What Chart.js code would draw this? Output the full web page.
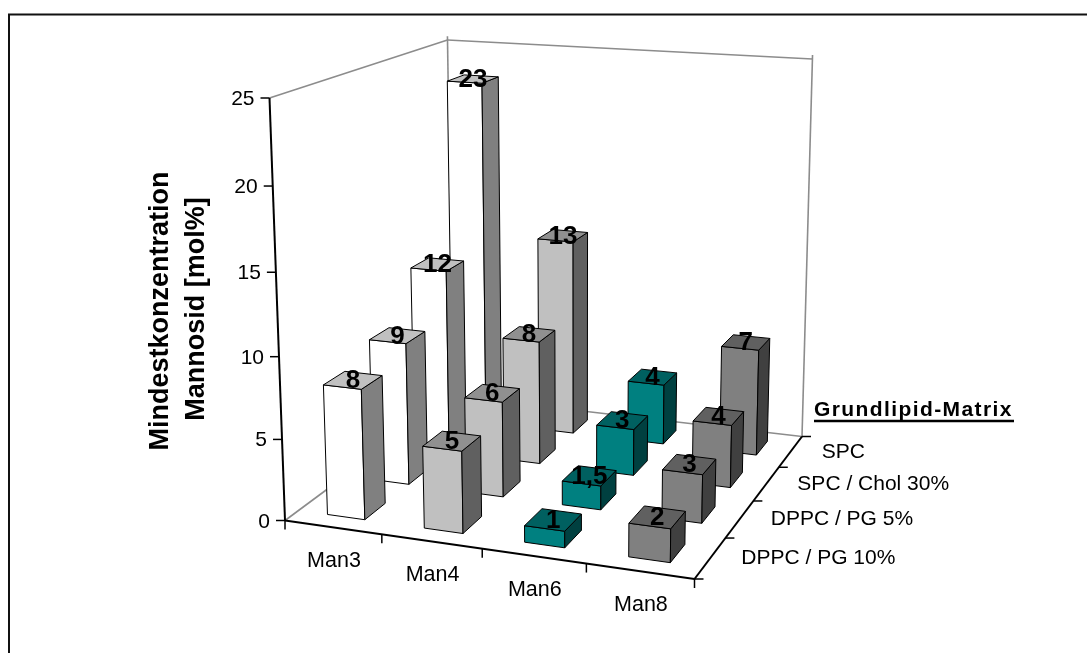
<!DOCTYPE html>
<html>
<head>
<meta charset="utf-8">
<style>
  html, body { margin: 0; padding: 0; background: #fff; }
  canvas { display: block; }
</style>
<script src="https://cdn.jsdelivr.net/npm/chart.js@4/dist/chart.umd.min.js"></script>
</head>
<body>
<canvas id="chart" width="1087" height="653"></canvas>
<script>
const categories = ['Man3', 'Man4', 'Man6', 'Man8'];
const valueTicks = [0, 5, 10, 15, 20, 25];

// rows from the back of the floor to the front
const rowLabels = ['SPC', 'SPC / Chol 30%', 'DPPC / PG 5%', 'DPPC / PG 10%'];
const spc = [23, 13, 4, 7];
const spcChol = [12, 8, 3, 4];
const dppcPg5 = [9, 6, 1.5, 3];
const dppcPg10 = [8, 5, 1, 2];

// front, side, top colour per category
const faceColors = [
    ['#ffffff', '#808080', '#c0c0c0'],
    ['#c0c0c0', '#606060', '#909090'],
    ['#008080', '#004040', '#006060'],
    ['#808080', '#404040', '#606060']
];

const FONT = "'Liberation Sans', Arial, sans-serif";
const BAR_U = 0.39;  // bar width as share of a category
const BAR_V = 0.45;  // bar depth as share of a row

// Corners of the 3D box on the page
const box = {
    front0: [285, 520.5], front1: [694.5, 579],
    back1: [802, 436.5], back0: [453, 396],
    frontTop0: [269.5, 98], backTop0: [447.5, 38.5]
};

function buildProjection(b) {
    const [x0, y0] = b.front0, [x1, y1] = b.front1, [x2, y2] = b.back1, [x3, y3] = b.back0;
    const dx1 = x1 - x2, dx2 = x3 - x2, sx = x0 - x1 + x2 - x3;
    const dy1 = y1 - y2, dy2 = y3 - y2, sy = y0 - y1 + y2 - y3;
    const det = dx1 * dy2 - dx2 * dy1;
    const g = (sx * dy2 - dx2 * sy) / det;
    const h = (dx1 * sy - sx * dy1) / det;
    const a = x1 - x0 + g * x1, bb = x3 - x0 + h * x3;
    const d = y1 - y0 + g * y1, e = y3 - y0 + h * y3;

    // vertical direction, from the two known top corners
    const [tx, ty] = b.frontTop0, [bx] = b.backTop0;
    const W3 = h + 1;
    const r = (bb + x0 + tx - x0 - bx * W3) / (bx - tx);
    const p = tx * (1 + r) - x0;
    const q = ty * (1 + r) - y0;

    return (u, v, z) => {
        const W = g * u + h * v + 1 + r * z;
        return [(a * u + bb * v + x0 + p * z) / W, (d * u + e * v + y0 + q * z) / W];
    };
}

const project = buildProjection(box);

function line(ctx, from, to, color, width) {
    ctx.beginPath();
    ctx.moveTo(from[0], from[1]);
    ctx.lineTo(to[0], to[1]);
    ctx.strokeStyle = color;
    ctx.lineWidth = width;
    ctx.stroke();
}

function face(ctx, pts, color) {
    ctx.beginPath();
    pts.forEach((pt, i) => i ? ctx.lineTo(pt[0], pt[1]) : ctx.moveTo(pt[0], pt[1]));
    ctx.closePath();
    ctx.fillStyle = color;
    ctx.fill();
    ctx.strokeStyle = '#000';
    ctx.lineWidth = 1;
    ctx.lineJoin = 'round';
    ctx.stroke();
}

function text(ctx, str, x, y, font, align) {
    ctx.font = font;
    ctx.textAlign = align || 'left';
    ctx.textBaseline = 'alphabetic';
    ctx.fillStyle = '#000';
    ctx.fillText(str, x, y);
}

const box3d = {
    id: 'box3d',
    afterDatasetsDraw(chart) {
        const ctx = chart.ctx;
        const xs = chart.scales.x, ys = chart.scales.y;
        const zOf = v => (ys.bottom - ys.getPixelForValue(v)) / ys.height;
        const uOf = i => (xs.getPixelForValue(i) - xs.left) / xs.width;
        const rows = chart.data.datasets.length;
        const vOf = j => (rows - 1 - j + 0.5) / rows;
        const halfU = BAR_U / categories.length / 2;
        const halfV = BAR_V / rows / 2;

        ctx.save();

        // frame, open to the right and at the bottom
        ctx.beginPath();
        ctx.moveTo(9, 653);
        ctx.lineTo(9, 14.5);
        ctx.lineTo(1087, 14.5);
        ctx.strokeStyle = '#111';
        ctx.lineWidth = 2;
        ctx.stroke();

        // walls
        const wall = '#8c8c8c';
        line(ctx, project(0, 0, 0), project(0, 1, 0), wall, 1.6);
        line(ctx, project(0, 1, 0), project(1, 1, 0), wall, 1.6);
        line(ctx, project(0, 1, 0), project(0, 1, 1.01), wall, 1.6);
        line(ctx, project(1, 1, 0), project(1, 1, 1.01), wall, 1.6);
        line(ctx, project(0, 0, 1), project(0, 1, 1), wall, 1.6);
        line(ctx, project(0, 1, 1), project(1, 1, 1), wall, 1.6);

        // bars, back row first
        chart.data.datasets.forEach((ds, j) => {
            const v = vOf(j);
            ds.data.forEach((value, i) => {
                const u = uOf(i), z = zOf(value);
                const [front, side, top] = faceColors[i];
                const u0 = u - halfU, u1 = u + halfU, v0 = v - halfV, v1 = v + halfV;
                face(ctx, [project(u0, v0, 0), project(u1, v0, 0), project(u1, v0, z), project(u0, v0, z)], front);
                face(ctx, [project(u1, v0, 0), project(u1, v1, 0), project(u1, v1, z), project(u1, v0, z)], side);
                face(ctx, [project(u0, v0, z), project(u1, v0, z), project(u1, v1, z), project(u0, v1, z)], top);
            });
        });

        // value labels on top of the bars
        chart.data.datasets.forEach((ds, j) => {
            ds.data.forEach((value, i) => {
                const c = project(uOf(i), vOf(j), zOf(value));
                text(ctx, String(value).replace('.', ','), c[0], c[1] + 8, 'bold 26px ' + FONT, 'center');
            });
        });

        // value axis
        line(ctx, project(0, 0, 0), project(0, 0, 1), '#000', 2);
        ys.ticks.forEach(t => {
            const pt = project(0, 0, zOf(t.value));
            line(ctx, pt, [pt[0] - 9, pt[1]], '#000', 1.5);
            text(ctx, t.label, pt[0] - 15, pt[1] + 7, '21px ' + FONT, 'right');
        });

        // category axis
        line(ctx, project(0, 0, 0), project(1, 0, 0), '#000', 2);
        for (let i = 0; i <= categories.length; i++) {
            const pt = project(i / categories.length, 0, 0);
            line(ctx, pt, [pt[0], pt[1] + 9], '#000', 1.5);
        }
        categories.forEach((name, i) => {
            const pt = project(uOf(i), 0, 0);
            text(ctx, name, pt[0] + 1, pt[1] + 40, '21.5px ' + FONT, 'center');
        });

        // depth axis
        line(ctx, project(1, 0, 0), project(1, 1, 0), '#000', 2);
        for (let j = 0; j <= rows; j++) {
            const pt = project(1, j / rows, 0);
            line(ctx, pt, [pt[0] + 9, pt[1]], '#000', 1.5);
        }
        rowLabels.forEach((name, j) => {
            const pt = project(1, vOf(j), 0);
            text(ctx, name, pt[0] + 31, pt[1] + 6, '21px ' + FONT);
        });

        // axis title, two rotated lines
        ctx.save();
        ctx.translate(168, 311);
        ctx.rotate(-Math.PI / 2);
        text(ctx, 'Mindestkonzentration', 0, 0, 'bold 27px ' + FONT, 'center');
        ctx.restore();
        ctx.save();
        ctx.translate(204, 309);
        ctx.rotate(-Math.PI / 2);
        text(ctx, 'Mannosid [mol%]', 0, 0, 'bold 27px ' + FONT, 'center');
        ctx.restore();

        // depth axis title
        ctx.letterSpacing = '1.4px';
        text(ctx, 'Grundlipid-Matrix', 814, 416, 'bold 21px ' + FONT);
        ctx.letterSpacing = '0px';
        line(ctx, [814, 421], [1014, 421], '#000', 2.5);

        ctx.restore();
    }
};

new Chart(document.getElementById('chart'), {
    type: 'bar',
    data: {
        labels: categories,
        datasets: [spc, spcChol, dppcPg5, dppcPg10].map((values, j) => ({
            label: rowLabels[j],
            data: values,
            backgroundColor: 'transparent',
            borderWidth: 0
        }))
    },
    options: {
        responsive: false,
        animation: false,
        layout: { padding: 0 },
        plugins: { legend: { display: false }, tooltip: { enabled: false } },
        scales: {
            x: { display: false },
            y: {
                display: false,
                min: valueTicks[0],
                max: valueTicks[valueTicks.length - 1],
                ticks: { stepSize: valueTicks[1] - valueTicks[0] }
            }
        }
    },
    plugins: [box3d]
});
</script>
</body>
</html>
